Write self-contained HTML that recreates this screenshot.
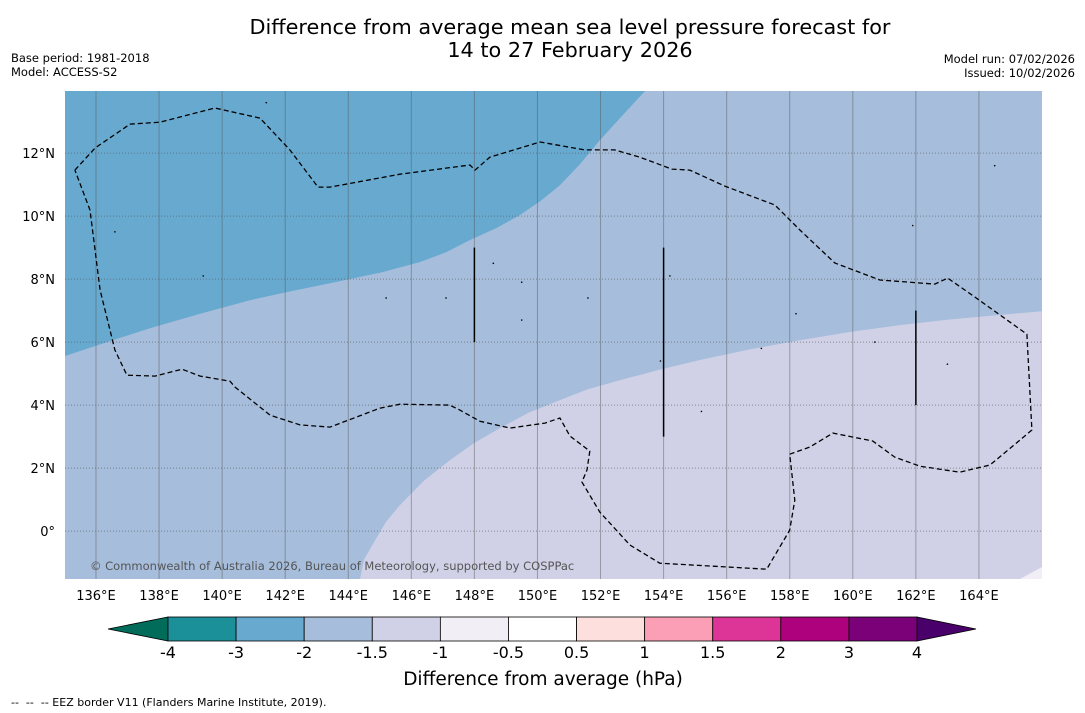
<!DOCTYPE html>
<html><head><meta charset="utf-8">
<style>
body{margin:0;background:#fff;width:1085px;height:713px;overflow:hidden;font-family:"Liberation Sans","DejaVu Sans",sans-serif}
svg{position:absolute;left:0;top:0}
</style></head>
<body>
<svg width="1085" height="713" viewBox="0 0 1085 713">
<text x="570" y="34" text-anchor="middle" font-size="20.8" font-family="DejaVu Sans,sans-serif">Difference from average mean sea level pressure forecast for</text>
<text x="570" y="57" text-anchor="middle" font-size="20.8" font-family="DejaVu Sans,sans-serif">14 to 27 February 2026</text>
<text x="11" y="62" font-size="11.5" font-family="DejaVu Sans,sans-serif">Base period: 1981-2018</text>
<text x="11" y="76" font-size="11.5" font-family="DejaVu Sans,sans-serif">Model: ACCESS-S2</text>
<text x="1075" y="63" font-size="11.5" text-anchor="end" font-family="DejaVu Sans,sans-serif">Model run: 07/02/2026</text>
<text x="1075" y="77" font-size="11.5" text-anchor="end" font-family="DejaVu Sans,sans-serif">Issued: 10/02/2026</text>
<g id="map"></g>
<g id="cbar"></g>
<text x="543" y="685" text-anchor="middle" font-size="18.5" font-family="DejaVu Sans,sans-serif">Difference from average (hPa)</text>
<text x="11" y="706" font-size="11" font-family="DejaVu Sans,sans-serif" style="white-space:pre" xml:space="preserve">--  --  -- EEZ border V11 (Flanders Marine Institute, 2019).</text>
</svg>
<script>
const NS='http://www.w3.org/2000/svg';
const lonTicks=[136,138,140,142,144,146,148,150,152,154,156,158,160,162,164];
const latTicks=[0,2,4,6,8,10,12];
const contourMinus2=[[135.02,5.56],[136.5,6.05],[137.71,6.44],[139.3,6.9],[140.88,7.33],[142.2,7.62],[143.42,7.87],[145.0,8.2],[146.27,8.54],[147.1,8.85],[147.86,9.24],[148.7,9.62],[149.44,10.03],[150.1,10.48],[150.71,10.98],[151.35,11.65],[151.98,12.41],[152.7,13.2],[153.41,13.97]];
const contourMinus15=[[144.37,-1.52],[144.5,-0.9],[144.85,-0.29],[145.2,0.3],[145.64,0.83],[146.4,1.6],[147.22,2.25],[148.0,2.8],[148.81,3.27],[149.7,3.75],[150.71,4.16],[151.6,4.5],[152.61,4.79],[153.9,5.13],[155.15,5.43],[156.7,5.76],[158.32,6.06],[159.9,6.32],[161.49,6.54],[163.1,6.72],[164.66,6.86],[165.99,6.98]];
const contourMinus1=[[165.30,-1.52],[166.0,-1.14]];
const eezBorder=[[135.33,11.46],[135.97,12.16],[137.08,12.92],[138.03,12.98],[139.77,13.43],[141.2,13.11],[142.15,12.1],[143.04,10.92],[143.42,10.92],[145.64,11.33],[147.86,11.62],[148.02,11.46],[148.49,11.87],[150.08,12.35],[151.5,12.1],[152.45,12.1],[153.25,11.87],[154.26,11.49],[154.83,11.46],[155.94,10.95],[157.53,10.35],[158.32,9.56],[159.43,8.51],[160.86,7.97],[162.6,7.84],[163.01,8.03],[163.87,7.43],[165.52,6.25],[165.68,3.21],[165.3,2.89],[164.35,2.1],[163.39,1.87],[162.13,2.06],[161.33,2.35],[160.63,2.86],[159.37,3.11],[158.64,2.67],[158.0,2.44],[158.16,0.98],[158.0,0.03],[157.27,-1.21],[153.88,-1.02],[152.93,-0.44],[151.98,0.6],[151.41,1.56],[151.57,1.94],[151.66,2.54],[151.03,3.02],[150.71,3.59],[150.24,3.43],[149.13,3.27],[148.17,3.49],[147.54,3.84],[147.22,4.0],[145.64,4.03],[145.0,3.9],[143.42,3.3],[142.47,3.37],[141.52,3.68],[140.41,4.57],[140.25,4.76],[139.3,4.92],[138.73,5.14],[137.87,4.92],[136.98,4.95],[136.6,5.75],[136.13,7.65],[135.81,10.19],[135.33,11.46]];
const eezLines=[[148,6,9],[154,3,9],[162,4,7]];
const islands=[[148.6,8.5],[149.5,7.9],[151.6,7.4],[154.2,8.1],[157.1,5.8],[158.2,6.9],[160.7,6.0],[163.0,5.3],[153.9,5.4],[155.2,3.8],[136.6,9.5],[141.4,13.6],[161.9,9.7],[164.5,11.6],[149.5,6.7],[139.4,8.1],[145.2,7.4],[147.1,7.4]];
const cbLevels=['-4','-3','-2','-1.5','-1','-0.5','0.5','1','1.5','2','3','4'];
const cbColors=['#1c9099','#67a9cf','#a6bddb','#d0d1e6','#f1eef6','#ffffff','#fde0dd','#fa9fb5','#dd3497','#ae017e','#7a0177'];
const cbExt=['#016c59','#49006a'];

const X0=65,X1=1042,Y0=91,Y1=579;
const lonMin=135.017,lonMax=166.0,latMin=-1.52,latMax=13.97;
const x=l=>X0+(l-lonMin)/(lonMax-lonMin)*(X1-X0);
const y=l=>Y1-(l-latMin)/(latMax-latMin)*(Y1-Y0);
function mk(t,a,p){const e=document.createElementNS(NS,t);for(const k in a)e.setAttribute(k,a[k]);p.appendChild(e);return e;}
const map=document.getElementById('map');
const pts=a=>a.map(p=>x(p[0]).toFixed(1)+','+y(p[1]).toFixed(1)).join(' ');
let e;
e=mk('rect',{x:X0,y:Y0,width:X1-X0,height:Y1-Y0,fill:'#a6bddb'},map);


e=mk('polygon',{points:pts(contourMinus2)+' '+X0+','+Y0,fill:'#67a9cf'},map);


e=mk('polygon',{points:pts(contourMinus15)+' '+X1+','+Y1,fill:'#d0d1e6'},map);


e=mk('polygon',{points:pts(contourMinus1)+' '+X1+','+Y1,fill:'#f1eef6'},map);


lonTicks.forEach(l=>{
 e=mk('line',{x1:x(l),x2:x(l),y1:Y0,y2:Y1,stroke:'#555','stroke-opacity':0.45,'stroke-width':1},map);
 
 
 e=mk('text',{x:x(l),y:600,'text-anchor':'middle','font-size':13,'font-family':'DejaVu Sans,sans-serif'},map);
 e.textContent=l+'°E';
 
 
});
latTicks.forEach(l=>{
 e=mk('line',{x1:X0,x2:X1,y1:y(l),y2:y(l),stroke:'#555','stroke-opacity':0.6,'stroke-width':1,'stroke-dasharray':'1,2'},map);
 
 
 e=mk('text',{x:55,y:y(l)+5,'text-anchor':'end','font-size':13,'font-family':'DejaVu Sans,sans-serif'},map);
 e.textContent=l===0?'0°':l+'°N';
 
 
});
e=mk('polyline',{points:pts(eezBorder),fill:'none',stroke:'#000','stroke-width':1.3,'stroke-dasharray':'5,3'},map);


eezLines.forEach(s=>{
 e=mk('line',{x1:x(s[0]),x2:x(s[0]),y1:y(s[1]),y2:y(s[2]),stroke:'#000','stroke-width':1.5},map);
 
 
});
islands.forEach(p=>{
 e=mk('circle',{cx:x(p[0]),cy:y(p[1]),r:0.8,fill:'#000'},map);
 
 
});
e=mk('text',{x:90,y:570,'font-size':11.5,fill:'#555','font-family':'DejaVu Sans,sans-serif'},map);
e.textContent='© Commonwealth of Australia 2026, Bureau of Meteorology, supported by COSPPac';



const cb=document.getElementById('cbar');
const cbL=168,cbR=917,cbT=617,cbB=641,bw=(cbR-cbL)/cbColors.length;
e=mk('polygon',{points:`108,629 ${cbL},${cbT} ${cbL},${cbB}`,fill:cbExt[0],stroke:'#000','stroke-width':0.8},cb);


e=mk('polygon',{points:`976,629 ${cbR},${cbT} ${cbR},${cbB}`,fill:cbExt[1],stroke:'#000','stroke-width':0.8},cb);


cbColors.forEach((c,i)=>{
 e=mk('rect',{x:cbL+i*bw,y:cbT,width:bw,height:cbB-cbT,fill:c,stroke:'#000','stroke-width':0.8},cb);
 
 
});
cbLevels.forEach((t,i)=>{
 e=mk('text',{x:cbL+i*bw,y:658,'text-anchor':'middle','font-size':16,'font-family':'DejaVu Sans,sans-serif'},cb);
 e.textContent=t;
 
 
});
</script>
</body></html>
